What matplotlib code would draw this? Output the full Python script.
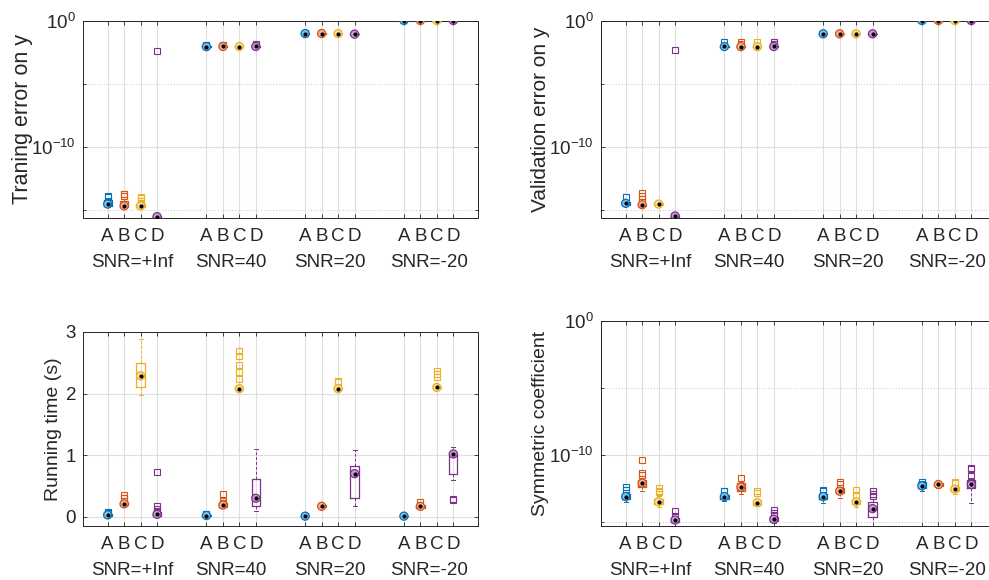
import matplotlib
matplotlib.use('Agg')
import matplotlib.pyplot as plt
import numpy as np
from matplotlib.colors import to_rgb

plt.rcParams['font.family'] = ['Liberation Sans', 'DejaVu Sans']
plt.rcParams['mathtext.fontset'] = 'custom'
plt.rcParams['mathtext.rm'] = 'Liberation Sans'
plt.rcParams['mathtext.it'] = 'Liberation Sans:italic'
plt.rcParams['mathtext.default'] = 'regular'

# ---------------- data ----------------
methods = ['A', 'B', 'C', 'D']
snr_labels = ['SNR=+Inf', 'SNR=40', 'SNR=20', 'SNR=-20']
colors = ['#0072BD', '#D95319', '#EDB120', '#7E2F8E']

# Training error on y (order: A,B,C,D for +Inf, 40, 20, -20)
train_med = [2.8e-15, 2.0e-15, 2.0e-15, 2.8e-16, 8.5e-3, 8.7e-3, 8.6e-3, 8.8e-3,
             0.092, 0.093, 0.092, 0.083, 1.0, 1.0, 1.0, 1.0]
train_q1 = [1.8e-15, 1.6e-15, 1.7e-15, 2.5e-16, 7.6e-3, 7.8e-3, 7.8e-3, 7.9e-3,
            0.086, 0.087, 0.087, 0.079, 0.99, 0.99, 0.99, 0.99]
train_q3 = [6.0e-15, 5.0e-15, 3.0e-15, 3.0e-16, 9.5e-3, 9.8e-3, 9.5e-3, 9.9e-3,
            0.100, 0.100, 0.098, 0.088, 1.01, 1.01, 1.01, 1.01]
train_lo = [1.6e-15, 1.5e-15, 1.6e-15, 2.3e-16, 7.0e-3, 7.2e-3, 7.2e-3, 7.3e-3,
            0.080, 0.082, 0.082, 0.075, 0.98, 0.98, 0.98, 0.98]
train_hi = [8.0e-15, 7.0e-15, 4.0e-15, 3.2e-16, 1.0e-2, 1.05e-2, 1.0e-2, 1.05e-2,
            0.105, 0.105, 0.103, 0.092, 1.02, 1.02, 1.02, 1.02]
train_out = [[1.2e-14, 1.0e-14], [1.8e-14, 1.8e-14, 1.3e-14], [5e-15, 8e-15, 1.0e-14], [3.5e-3],
             [1.05e-2], [1.1e-2], [], [1.3e-2],
             [0.11], [], [], [],
             [], [], [], []]

# Validation error on y
valid_med = [3.2e-15, 2.5e-15, 2.8e-15, 3.2e-16, 8.7e-3, 8.5e-3, 8.5e-3, 8.7e-3,
             0.088, 0.088, 0.088, 0.088, 1.0, 1.0, 1.0, 1.0]
valid_q1 = [2.5e-15, 2.0e-15, 2.4e-15, 2.8e-16, 8.0e-3, 7.9e-3, 7.9e-3, 8.0e-3,
            0.084, 0.084, 0.084, 0.084, 0.99, 0.99, 0.99, 0.99]
valid_q3 = [4.0e-15, 3.0e-15, 3.3e-15, 3.5e-16, 9.5e-3, 9.3e-3, 9.3e-3, 9.5e-3,
            0.093, 0.093, 0.093, 0.093, 1.01, 1.01, 1.01, 1.01]
valid_lo = [2.0e-15, 1.8e-15, 2.1e-15, 2.6e-16, 7.5e-3, 7.4e-3, 7.4e-3, 7.5e-3,
            0.080, 0.080, 0.080, 0.080, 0.98, 0.98, 0.98, 0.98]
valid_hi = [5.0e-15, 3.5e-15, 3.8e-15, 3.8e-16, 1.0e-2, 1.0e-2, 1.0e-2, 1.0e-2,
            0.097, 0.097, 0.097, 0.097, 1.02, 1.02, 1.02, 1.02]
valid_out = [[1.0e-14], [2.0e-14, 1.3e-14, 7e-15], [], [5e-3],
             [2.1e-2], [2.1e-2, 1.4e-2], [2.1e-2], [1.9e-2, 1.4e-2],
             [], [], [], [],
             [], [], [], []]

# Running time (s)
time_med = [0.03, 0.21, 2.29, 0.04, 0.02, 0.19, 2.08, 0.30,
            0.01, 0.17, 2.08, 0.70, 0.01, 0.17, 2.10, 1.02]
time_q1 = [0.02, 0.19, 2.11, 0.02, 0.01, 0.16, 2.07, 0.17,
           0.005, 0.16, 2.07, 0.31, 0.005, 0.15, 2.09, 0.70]
time_q3 = [0.05, 0.24, 2.49, 0.07, 0.03, 0.22, 2.10, 0.61,
           0.015, 0.19, 2.09, 0.82, 0.015, 0.19, 2.11, 1.03]
time_lo = [0.01, 0.17, 1.98, 0.01, 0.0, 0.15, 2.06, 0.10,
           0.0, 0.15, 2.06, 0.18, 0.0, 0.14, 2.08, 0.60]
time_hi = [0.07, 0.26, 2.88, 0.10, 0.04, 0.24, 2.11, 1.10,
           0.02, 0.20, 2.10, 1.08, 0.02, 0.20, 2.12, 1.13]
time_out = [[0.065, 0.07], [0.36, 0.30, 0.31], [], [0.72, 0.17, 0.13, 0.09],
            [0.04], [0.37, 0.25, 0.22], [2.69, 2.61, 2.47, 2.35, 2.24], [],
            [], [], [2.20, 2.19], [],
            [], [0.24], [2.36, 2.32, 2.27], [0.29, 0.28]]

# Symmetric coefficient
sym_med = [7.9e-14, 8.0e-13, 3.2e-14, 1.4e-15, 7.9e-14, 4.0e-13, 2.8e-14, 1.6e-15,
           7.9e-14, 2.0e-13, 3.2e-14, 1.0e-14, 5.0e-13, 6.3e-13, 2.8e-13, 6.3e-13]
sym_q1 = [5.0e-14, 4.0e-13, 2.2e-14, 1.0e-15, 5.6e-14, 2.0e-13, 2.0e-14, 1.1e-15,
          5.0e-14, 1.4e-13, 2.2e-14, 2.5e-15, 3.5e-13, 5.0e-13, 2.0e-13, 3.2e-13]
sym_q3 = [1.26e-13, 1.26e-12, 5.0e-14, 2.0e-15, 1.1e-13, 8.0e-13, 3.5e-14, 2.2e-15,
          1.3e-13, 3.2e-13, 4.5e-14, 3.2e-14, 1.0e-12, 8.0e-13, 4.0e-13, 1.26e-12]
sym_lo = [3.2e-14, 2.0e-13, 1.26e-14, 8.0e-16, 3.5e-14, 1.26e-13, 1.6e-14, 9.0e-16,
          2.8e-14, 6.3e-14, 1.26e-14, 2.0e-16, 2.0e-13, 3.2e-13, 1.26e-13, 2.5e-14]
sym_hi = [1.6e-13, 2.0e-12, 8.0e-14, 2.5e-15, 1.3e-13, 1.0e-12, 4.0e-14, 2.8e-15,
          1.6e-13, 4.0e-13, 6.0e-14, 5.0e-14, 1.2e-12, 1.0e-12, 5.0e-13, 2.0e-12]
sym_out = [[4.0e-13, 2.5e-13], [4.5e-12, 3.2e-12, 4.0e-11], [3.2e-13, 1.6e-13, 2.0e-13], [2.8e-15, 6.3e-15],
           [2.0e-13, 2.2e-13], [2.0e-12], [2.2e-13, 1.4e-13], [8.0e-15, 5.0e-15, 3.2e-15],
           [2.5e-13, 2.2e-13], [9.0e-13, 6.3e-13], [2.5e-13, 1.0e-13], [2.0e-13, 1.26e-13, 8.0e-14],
           [1.0e-12], [], [9.0e-13, 8.0e-13], [1.1e-11, 9.0e-12, 2.5e-12]]

# ---------------- drawing ----------------
W, H = 989, 580
fig = plt.figure(figsize=(W / 100, H / 100), dpi=100)

def rect(left, top, right, bottom):
    return [left / W, 1 - bottom / H, (right - left) / W, (bottom - top) / H]

ax_tl = fig.add_axes(rect(83, 20.5, 478, 218))
ax_tr = fig.add_axes(rect(601, 20.5, 996, 218))
ax_bl = fig.add_axes(rect(83, 332, 478, 526))
ax_br = fig.add_axes(rect(601, 321, 996, 526))

axcol = '#262626'
gridcol = '#dfdfdf'
TICKFS = 13.5

positions = [g * 6 + k + 1 for g in range(len(snr_labels)) for k in range(len(methods))]
box_colors = [colors[k] for g in range(len(snr_labels)) for k in range(len(methods))]


def light(c, f=0.55):
    r, g, b = to_rgb(c)
    return (r + (1 - r) * f, g + (1 - g) * f, b + (1 - b) * f)


def draw_panel(ax, med, q1, q3, lo, hi, out, ylabel, log, ylim, label_x, labfs):
    for i in range(len(med)):
        c = box_colors[i]
        st = dict(med=med[i], q1=q1[i], q3=q3[i], whislo=lo[i], whishi=hi[i], fliers=out[i])
        ax.bxp([st], positions=[positions[i]], widths=0.5, manage_ticks=False,
               boxprops=dict(color=c, linewidth=0.9),
               whiskerprops=dict(color=c, linewidth=0.7, linestyle=(0, (3, 2))),
               capprops=dict(color=c, linewidth=0.7),
               capwidths=0.25,
               medianprops=dict(visible=False),
               flierprops=dict(marker='s', markersize=5, markerfacecolor='none',
                               markeredgecolor=c, markeredgewidth=0.8))
    ax.scatter(positions, med, s=34, marker='o', facecolors=[light(c) for c in box_colors],
               edgecolors=box_colors, linewidths=0.9, zorder=4)
    ax.scatter(positions, med, s=4, marker='o', color='black', zorder=5)

    ax.set_xlim(-0.5, 23.5)
    if log:
        ax.set_yscale('log')
    ax.set_ylim(*ylim)

    ax.set_xticks(positions)
    ax.set_xticklabels([methods[k] for g in range(len(snr_labels)) for k in range(len(methods))])
    group_centers = [g * 6 + 2.5 for g in range(len(snr_labels))]
    ax.set_xticks(group_centers, minor=True)
    ax.set_xticklabels(snr_labels, minor=True)
    ax.tick_params(axis='x', which='major', direction='in', length=3, width=0.6,
                   colors=axcol, labelsize=TICKFS, pad=7, top=True)
    ax.tick_params(axis='x', which='minor', length=0, labelsize=TICKFS, pad=26, labelcolor=axcol)

    if log:
        ax.set_yticks([1e-10, 1e0])
        ax.set_yticklabels(['$10^{-10}$', '$10^{0}$'])
        ax.set_yticks([1e-15, 1e-5], minor=True)
        ax.set_yticklabels(['', ''], minor=True)
        ax.yaxis.grid(True, which='minor', color='#c6c6c6', linestyle=(0, (1, 2)), linewidth=0.7)
        ax.tick_params(axis='y', which='minor', direction='in', length=2, width=0.5, right=True)
    else:
        ax.set_yticks([0, 1, 2, 3])
        ax.set_yticklabels(['0', '1', '2', '3'])
    ax.tick_params(axis='y', which='major', direction='in', length=3, width=0.6, colors=axcol,
                   labelsize=TICKFS, pad=5, right=True)

    ax.xaxis.grid(True, which='major', color=gridcol, linewidth=0.8)
    ax.yaxis.grid(True, which='major', color=gridcol, linewidth=0.8)
    ax.set_axisbelow(True)
    for s in ax.spines.values():
        s.set_color(axcol)
        s.set_linewidth(0.7)
    ax.set_ylabel(ylabel, fontsize=labfs, color=axcol)
    ax.yaxis.set_label_coords(label_x, 0.5)


draw_panel(ax_tl, train_med, train_q1, train_q3, train_lo, train_hi, train_out,
           'Traning error on y', True, (2.2e-16, 1.0), -0.127, 15.5)
draw_panel(ax_tr, valid_med, valid_q1, valid_q3, valid_lo, valid_hi, valid_out,
           'Validation error on y', True, (2.2e-16, 1.0), -0.13, 15)
draw_panel(ax_bl, time_med, time_q1, time_q3, time_lo, time_hi, time_out,
           'Running time (s)', False, (-0.15, 3.0), -0.053, 14)
draw_panel(ax_br, sym_med, sym_q1, sym_q3, sym_lo, sym_hi, sym_out,
           'Symmetric coefficient', True, (5e-16, 1.0), -0.132, 14)

fig.savefig('out.png', dpi=100)
